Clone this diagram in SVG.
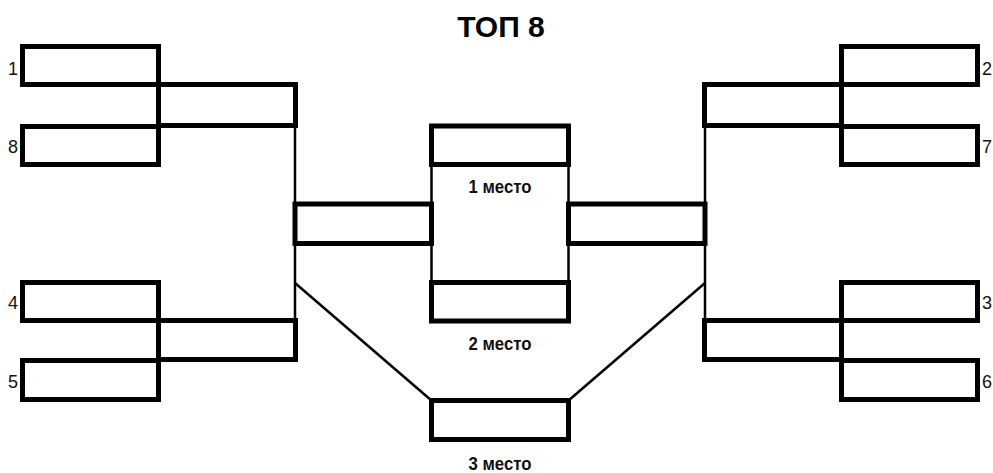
<svg xmlns="http://www.w3.org/2000/svg" width="993" height="473" viewBox="0 0 993 473">
<style>
.box{fill:none;stroke:#000;stroke-width:5;stroke-linejoin:miter}
.con{fill:none;stroke:#000;stroke-width:2.5}
.num{font-family:"Liberation Sans",Arial,sans-serif;font-size:18px;fill:#111}
.place{font-family:"Liberation Sans Narrow","Liberation Sans",Arial,sans-serif;font-weight:bold;font-size:19px;fill:#111;text-anchor:middle}
.title{font-family:"Liberation Sans",Arial,sans-serif;font-weight:bold;font-size:30px;fill:#000;text-anchor:middle}
</style>
<rect width="993" height="473" fill="#fff"/>
<text class="title" x="501" y="37">ТОП 8</text>
<g id="connectors">
<line class="con" x1="295" y1="125.5" x2="295" y2="320.5"/>
<line class="con" x1="705" y1="125.5" x2="705" y2="320.5"/>
<line class="con" x1="431.5" y1="164.5" x2="431.5" y2="282.5"/>
<line class="con" x1="568.5" y1="164.5" x2="568.5" y2="282.5"/>
<line class="con" x1="295" y1="283" x2="431.5" y2="400.5"/>
<line class="con" x1="705" y1="283" x2="568.5" y2="400.5"/>
</g>
<g id="seed1"><rect class="box" x="22.5" y="46.5" width="136" height="38"/><text class="num" x="18" y="75" text-anchor="end">1</text></g>
<g id="seed8"><rect class="box" x="22.5" y="126.5" width="136" height="38"/><text class="num" x="18" y="153" text-anchor="end">8</text></g>
<g id="seed4"><rect class="box" x="22.5" y="282.5" width="136" height="38"/><text class="num" x="18" y="309" text-anchor="end">4</text></g>
<g id="seed5"><rect class="box" x="22.5" y="360.5" width="136" height="39"/><text class="num" x="18" y="388" text-anchor="end">5</text></g>
<g id="qf-left-top"><rect class="box" x="158.5" y="84.5" width="137" height="41"/></g>
<g id="qf-left-bottom"><rect class="box" x="158.5" y="320.5" width="137" height="39"/></g>
<g id="sf-left"><rect class="box" x="295" y="204" width="136.5" height="39.5"/></g>
<g id="first"><rect class="box" x="431.5" y="126" width="137" height="38.5"/><text class="place" x="500" y="193" textLength="63" lengthAdjust="spacingAndGlyphs">1 место</text></g>
<g id="second"><rect class="box" x="431.5" y="282.5" width="137" height="38.5"/><text class="place" x="500" y="350" textLength="63" lengthAdjust="spacingAndGlyphs">2 место</text></g>
<g id="third"><rect class="box" x="431.5" y="400.5" width="137" height="39"/><text class="place" x="500" y="470" textLength="63" lengthAdjust="spacingAndGlyphs">3 место</text></g>
<g id="sf-right"><rect class="box" x="568.5" y="204" width="136.5" height="39.5"/></g>
<g id="qf-right-top"><rect class="box" x="704.5" y="84.5" width="137" height="41"/></g>
<g id="qf-right-bottom"><rect class="box" x="704.5" y="320.5" width="137" height="39"/></g>
<g id="seed2"><rect class="box" x="841.5" y="46.5" width="136" height="38"/><text class="num" x="982" y="75">2</text></g>
<g id="seed7"><rect class="box" x="841.5" y="126.5" width="136" height="38"/><text class="num" x="982" y="153">7</text></g>
<g id="seed3"><rect class="box" x="841.5" y="282.5" width="136" height="38"/><text class="num" x="982" y="309">3</text></g>
<g id="seed6"><rect class="box" x="841.5" y="360.5" width="136" height="39"/><text class="num" x="982" y="388">6</text></g>
</svg>
